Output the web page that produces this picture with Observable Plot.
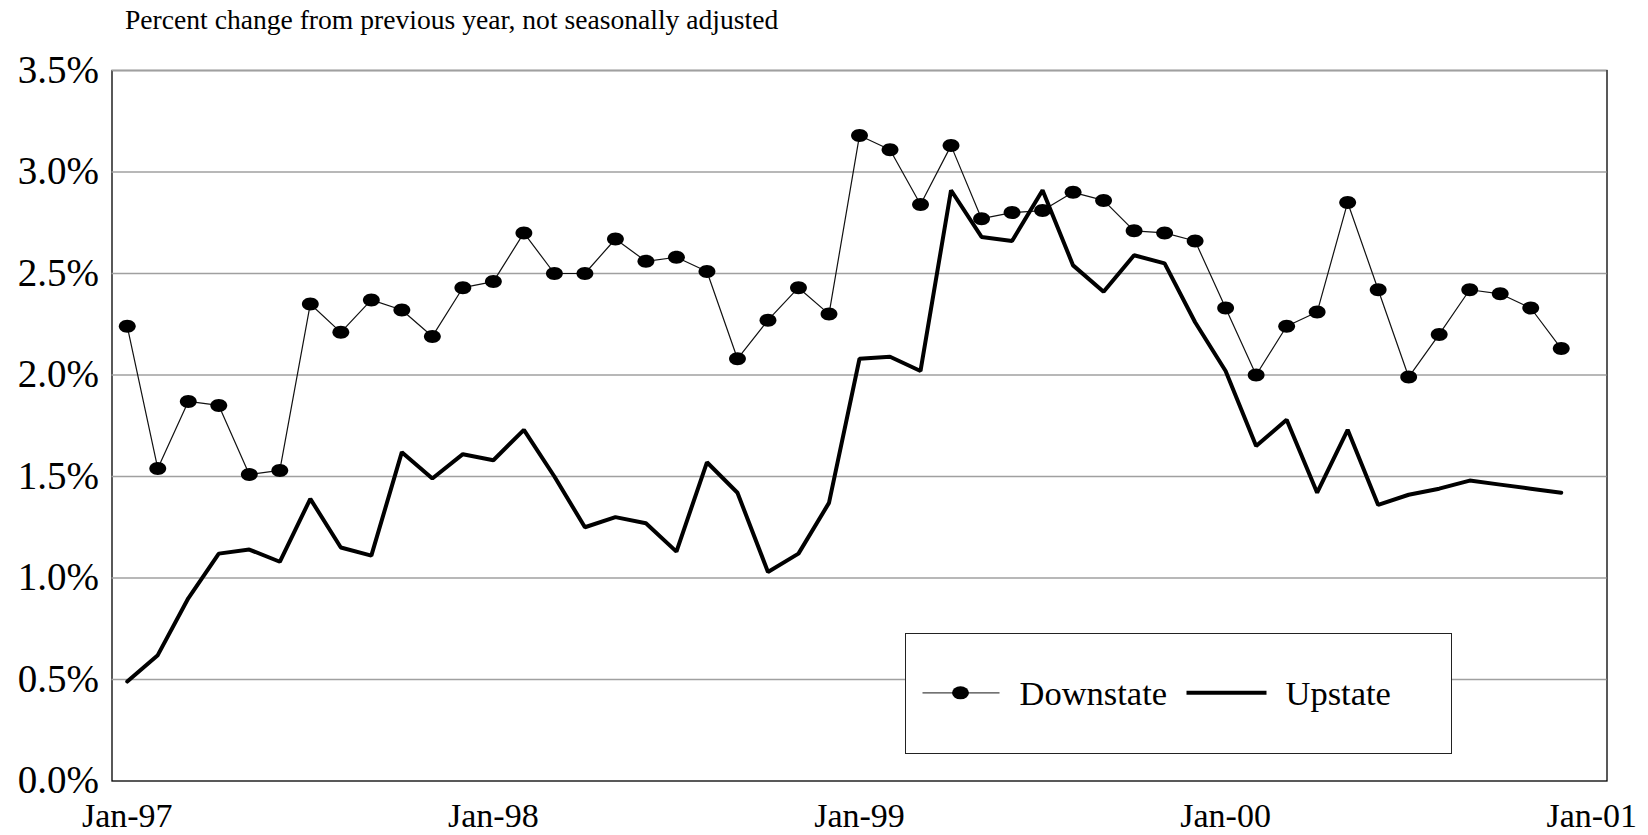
<!DOCTYPE html>
<html><head><meta charset="utf-8">
<script src="https://cdn.jsdelivr.net/npm/d3@7"></script>
<script src="https://cdn.jsdelivr.net/npm/@observablehq/plot@0.6"></script>
<style>
body{margin:0;background:#fff;}
#wrap{position:relative;width:1648px;height:835px;font-family:"Liberation Serif","Times New Roman",serif;color:#000;}
#title{position:absolute;left:125px;top:6px;font-size:27.6px;line-height:27px;white-space:nowrap;}
#chart{position:absolute;left:0;top:40px;}
#legend{position:absolute;left:905px;top:633px;width:547px;height:121px;box-sizing:border-box;border:1.5px solid #222;background:#fff;}
#legend svg{display:block;}
</style></head><body>
<div id="wrap">
  <div id="title">Percent change from previous year, not seasonally adjusted</div>
  <div id="chart"></div>
  <div id="legend"></div>
</div>
<script>
// Categories: monthly, Jan-97 .. Dec-00
const months = d3.utcMonth.range(new Date(Date.UTC(1997, 0, 1)), new Date(Date.UTC(2001, 0, 1)));
const xTickLabels = ["Jan-97", "Jan-98", "Jan-99", "Jan-00", "Jan-01"];
const yTicks = [0, 0.5, 1, 1.5, 2, 2.5, 3, 3.5];
const seriesNames = ["Downstate", "Upstate"];

// Percent change from previous year
const downstate = [
  2.24, 1.54, 1.87, 1.85, 1.51, 1.53, 2.35, 2.21, 2.37, 2.32, 2.19, 2.43,
  2.46, 2.70, 2.50, 2.50, 2.67, 2.56, 2.58, 2.51, 2.08, 2.27, 2.43, 2.30,
  3.18, 3.11, 2.84, 3.13, 2.77, 2.80, 2.81, 2.90, 2.86, 2.71, 2.70, 2.66,
  2.33, 2.00, 2.24, 2.31, 2.85, 2.42, 1.99, 2.20, 2.42, 2.40, 2.33, 2.13
];
const upstate = [
  0.49, 0.62, 0.90, 1.12, 1.14, 1.08, 1.39, 1.15, 1.11, 1.62, 1.49, 1.61,
  1.58, 1.73, 1.50, 1.25, 1.30, 1.27, 1.13, 1.57, 1.42, 1.03, 1.12, 1.37,
  2.08, 2.09, 2.02, 2.91, 2.68, 2.66, 2.91, 2.54, 2.41, 2.59, 2.55, 2.26,
  2.02, 1.65, 1.78, 1.42, 1.73, 1.36, 1.41, 1.44, 1.48, 1.46, 1.44, 1.42
];

const rows = vals => vals.map((v, i) => ({i, month: months[i], value: v}));
const down = rows(downstate);
const up = rows(upstate);

// horizontally stretched elliptical marker
const ellipse = {
  draw(ctx, size) {
    const r = Math.sqrt(size / Math.PI), rx = r * 1.3, ry = r, k = 0.5523;
    ctx.moveTo(rx, 0);
    ctx.bezierCurveTo(rx, ry * k, rx * k, ry, 0, ry);
    ctx.bezierCurveTo(-rx * k, ry, -rx, ry * k, -rx, 0);
    ctx.bezierCurveTo(-rx, -ry * k, -rx * k, -ry, 0, -ry);
    ctx.bezierCurveTo(rx * k, -ry, rx, -ry * k, rx, 0);
    ctx.closePath();
  }
};

const chart = Plot.plot({
  width: 1648, height: 795,
  marginLeft: 111.5, marginRight: 41.5, marginTop: 30, marginBottom: 54.5,
  style: {fontFamily: '"Liberation Serif", "Times New Roman", serif', background: "#fff", color: "#000"},
  x: {type: "linear", domain: [-0.5, 48.5]},
  y: {domain: [0, 3.5]},
  marks: [
    Plot.frame({stroke: "#000", strokeWidth: 1.3}),
    Plot.ruleY(yTicks.filter(d => d > 0), {stroke: "#a0a0a0", strokeWidth: 1.5}),
    Plot.axisY({ticks: yTicks, tickFormat: d => d.toFixed(1) + "%", tickSize: 0, tickPadding: 13, fontSize: 39, label: null}),
    Plot.axisX({ticks: xTickLabels.map((_, k) => k * 12), tickFormat: i => xTickLabels[Math.round(i / 12)], tickSize: 0, tickPadding: 22, fontSize: 34, label: null}),
    Plot.lineY(down, {x: "i", y: "value", stroke: "#111", strokeWidth: 1.2}),
    Plot.dot(down, {x: "i", y: "value", r: 6.5, symbol: ellipse, fill: "#000", stroke: "none"}),
    Plot.lineY(up, {x: "i", y: "value", stroke: "#000", strokeWidth: 4, strokeLinejoin: "miter"})
  ]
});
document.getElementById("chart").appendChild(chart);

// Legend
const leg = d3.select("#legend").append("svg").attr("width", 544).attr("height", 118)
  .style("font-family", '"Liberation Serif", "Times New Roman", serif');
leg.append("line").attr("x1", 16.5).attr("x2", 93.5).attr("y1", 58.8).attr("y2", 58.8).attr("stroke", "#444").attr("stroke-width", 1.2);
leg.append("ellipse").attr("cx", 54.5).attr("cy", 58.8).attr("rx", 8.5).attr("ry", 6.5).attr("fill", "#000");
leg.append("text").attr("x", 113.5).attr("y", 70.5).attr("font-size", 34.5).text(seriesNames[0]);
leg.append("line").attr("x1", 280.5).attr("x2", 360.5).attr("y1", 58.8).attr("y2", 58.8).attr("stroke", "#000").attr("stroke-width", 4);
leg.append("text").attr("x", 379.5).attr("y", 70.5).attr("font-size", 34.5).text(seriesNames[1]);
</script>
</body></html>
